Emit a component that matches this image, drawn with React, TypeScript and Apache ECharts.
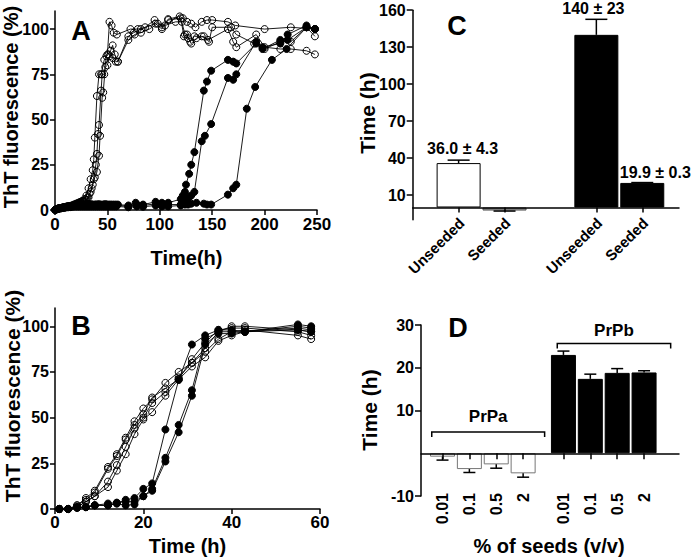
import React, { useEffect, useRef } from 'react';
import * as echarts from 'echarts';

const FONT = "'Liberation Sans', Arial, Helvetica, sans-serif";

// ---------- Panel A : ThT kinetics (open = PrPa, filled = PrPb) ----------
const openA1: number[][] = [[0,0],[2,0.5],[4,1],[6,1],[8,1.5],[10,1.5],[12,2],[14,2],[16,2.5],[18,3],[20,3.5],[22,4],[24,4.5],[26,5],[28,6],[30,8],[32,12],[34,17],[36,22],[37,28],[38,40],[40,63],[42,75],[44,75],[47,83],[50,86],[52,104],[54,102],[56,98],[59,97],[72,100],[79,100],[86,101],[95,105],[102,101],[108,105.5],[119,107],[122,106],[126,104],[130,103],[134,101],[140,104],[145,105],[150,105],[165,104],[172,102],[200,100],[225,101],[248,100]];
const openA2: number[][] = [[1,0.3],[3,0.8],[5,1],[7,1.2],[9,1.5],[11,1.8],[13,2],[15,2.2],[17,2.5],[19,3],[21,3.5],[23,4],[25,4.5],[27,5],[29,6],[31,7],[33,9],[35,12],[37,17],[39,25],[40,31],[41,42],[42,47],[44,66],[45,75],[47,75],[49,85],[51,86],[53,88],[55,91],[57,86],[60,82],[70,96],[75,98],[82,100],[96,103],[102,100],[108,105],[120,106],[123,96],[126,97],[129,93],[133,96],[140,96],[146,94],[165,100],[170,93],[173,90],[192,97],[200,90],[215,89],[225,89],[240,88],[248,86]];
const openA3: number[][] = [[0.5,0.2],[2.5,0.6],[4.5,0.9],[6.5,1.1],[8.5,1.3],[10.5,1.6],[12.5,1.8],[14.5,2],[16.5,2.3],[18.5,2.6],[20.5,3],[22.5,3.4],[24.5,4],[26.5,4.5],[28.5,5],[30,5.5],[32,7],[34,10],[36,14],[38,18],[40,21],[42,30],[43,41],[45,62],[46,65],[48,79],[50,80],[52,85],[55,84],[58,82],[60,82],[70,94],[76,97],[82,98],[90,100],[98,103],[105,102],[115,104],[121,104],[124,97],[127,95],[130,92],[135,95],[142,96],[147,93],[150,101],[168,101],[173,97],[190,92],[200,89],[215,93],[225,93],[240,101],[248,96]];
const filledA1: number[][] = [[0,0],[2,0.5],[4,1],[6,1.2],[8,1.5],[10,1.8],[12,2],[14,2.2],[16,2.3],[18,2.5],[20,2.5],[22,2.6],[24,2.8],[26,3],[28,3],[30,3],[32,3],[34,3.2],[36,3],[38,3],[40,3],[42,3.2],[44,3],[46,3],[48,3.2],[50,3],[52,3],[54,3],[56,3],[58,3],[60,3],[70,2.5],[77,4],[84,3],[96,4.5],[102,4],[108,4],[120,6],[122,8],[124,10],[125,14],[128,20],[130,25],[133,32],[142,66],[145,71],[149,77],[165,83],[170,82],[173,81],[192,92],[198,89],[215,94],[222,94],[240,101],[248,100]];
const filledA2: number[][] = [[1,0.3],[3,0.8],[5,1],[7,1.3],[9,1.6],[11,1.8],[13,2],[15,2.2],[17,2.4],[19,2.5],[21,2.6],[23,2.6],[25,2.8],[27,3],[29,3],[31,2.8],[33,3],[35,3],[37,2.8],[39,3],[41,3],[43,2.8],[45,2.8],[47,3],[49,3],[51,2.8],[53,2.8],[55,2.7],[57,2.6],[59,2.6],[70,2],[78,3],[84,2.5],[97,3.5],[102,3],[108,3],[120,3],[123,5],[126,6],[128,7],[130,8],[133,10],[140,38],[143,41],[149,47.5],[165,73],[170,72],[173,75],[192,93],[198,90],[215,92],[222,97],[240,102],[248,100]];
const filledA3: number[][] = [[0.5,0.2],[2.5,0.5],[4.5,0.8],[6.5,1],[8.5,1.2],[10.5,1.4],[12.5,1.5],[14.5,1.6],[16.5,1.8],[18.5,2],[20.5,2],[22.5,2],[24.5,2],[26.5,2],[28.5,2],[30.5,2],[32.5,2],[34.5,2],[36.5,2],[38.5,2],[40.5,2],[42.5,2],[44.5,2],[46.5,2],[48.5,2],[50.5,2],[52.5,2],[54.5,2],[56.5,2],[58.5,2],[70,1.5],[78,2],[84,1.8],[96,2.5],[102,2],[108,2],[120,2.5],[124,3],[127,3],[130,3.5],[135,4],[142,3.5],[145,3],[149,3],[165,8.5],[170,12],[173,14],[183,56],[191,68],[207,83],[221,89],[240,101],[248,100]];

// ---------- Panel B : seeded kinetics ----------
const timesB = [1,3,5,7,9,12,14,16,18,20,22,25,28,31,34,37,40,43,55,58];
const openB1 = [0,0,2,6,10,23,30,39,48,55,60,69,75,80,88,97,100,100,98,97];
const openB2 = [0,0,2,5,9,22,29,38,46,52,61,66,71,82,91,98,99,99,97,95];
const openB3 = [0,0,1,4,7,15,24,34,44,50,58,64,72,80,86,93,97,98,95,93];
const openB4 = [0,0,1,4,7,12,21,30,41,49,53,62,71,78,83,92,95,97,99,98];
const filledB1 = [0,0,1,1,2,2,3,5,6,11,14,43.5,70.6,90,95,98,98,97,101,100];
const filledB2 = [0,0,1,1,2,3,3.5,4,4,7,11,28,46,65,93,97,97,97,100,99];
const filledB3 = [0,0,0.5,1,2,2,3,2,2.5,7,10,26,42,62,90,96,96,97,98,97];

// ---------- Panel C : lag times ----------
const cPositions = [1, 2, 4, 5];
const cLabels = ['Unseeded', 'Seeded', 'Unseeded', 'Seeded'];
const cMeans = [36.0, -2.5, 140, 19.9];
const cErrors = [2.4, -0.4, 12.6, 0.3];
const cAnnotations = ['36.0 ± 4.3', '', '140 ± 23', '19.9 ± 0.3'];
const cColors = ['#ffffff', '#9a9a9a', '#000000', '#000000'];
const cYTicks = [10, 40, 70, 100, 130, 160];

// ---------- Panel D : lag time vs % seeds ----------
const dPositions = [1, 2, 3, 4, 5.5, 6.5, 7.5, 8.5];
const dLabels = ['0.01', '0.1', '0.5', '2', '0.01', '0.1', '0.5', '2'];
const dMeans = [-0.8, -3.7, -2.6, -4.7, 23.0, 17.4, 18.8, 18.9];
const dErrors = [-0.8, -0.8, -0.9, -0.9, 0.9, 1.1, 1.0, 0.4];
const dYTicks = [-10, 10, 20, 30];
const dGroups = [
  { text: 'PrPa', from: 0.6, to: 4.8, level: 5.0, drop: 1.2, textLevel: 8.6 },
  { text: 'PrPb', from: 5.27, to: 9.49, level: 25.7, drop: 1.2, textLevel: 28.6 },
];

const lineStyleAxis = { show: true, onZero: true, lineStyle: { color: '#000', width: 1.5 } };
const tick = (vals: number[], len = 5) => ({ show: true, inside: false, length: len, customValues: vals, lineStyle: { color: '#000', width: 1.5 } });
const lab = (vals: number[], size: number, margin: number, extra: any = {}) => ({
  show: true, customValues: vals, fontFamily: FONT, fontWeight: 'bold', fontSize: size, color: '#000', margin, ...extra,
});

function curve(data: number[][], filled: boolean, xi: number, yi: number) {
  return {
    type: 'line', xAxisIndex: xi, yAxisIndex: yi, data, symbol: 'circle', symbolSize: 7,
    showSymbol: true, showAllSymbol: true, silent: true, z: filled ? 3 : 4,
    lineStyle: { color: '#000', width: 0.9 },
    itemStyle: { color: filled ? '#000' : 'rgba(255,255,255,0)', borderColor: '#000', borderWidth: 1 },
  };
}

function errorSeries(xi: number, yi: number, pos: number[], means: number[], errs: number[], capHalf: number) {
  return {
    type: 'custom', xAxisIndex: xi, yAxisIndex: yi, z: 6, silent: true,
    data: pos.map((p, i) => [p, means[i], means[i] + errs[i]]),
    encode: { x: 0, y: [1, 2] },
    renderItem: (_p: any, api: any) => {
      const a = api.coord([api.value(0), api.value(1)]);
      const b = api.coord([api.value(0), api.value(2)]);
      const st = { stroke: '#000', lineWidth: 1.5 };
      return {
        type: 'group', children: [
          { type: 'line', shape: { x1: a[0], y1: a[1], x2: b[0], y2: b[1] }, style: st },
          { type: 'line', shape: { x1: b[0] - capHalf, y1: b[1], x2: b[0] + capHalf, y2: b[1] }, style: st },
        ],
      };
    },
  };
}

const titleText = (text: string, x: number, y: number, size: number, rotate = false) => ({
  type: 'text', x, y, rotation: rotate ? Math.PI / 2 : 0, silent: true,
  style: { text, fill: '#000', fontFamily: FONT, fontWeight: 'bold', fontSize: size, align: 'center', verticalAlign: 'middle', textAlign: 'center', textVerticalAlign: 'middle' },
});

function buildOption(): any {
  const cLabelLayout = [
    { distance: 7, offset: [4, 0] }, null, { distance: 18, offset: [-3, 0] }, { distance: 2, offset: [13, 0] },
  ];
  return {
    animation: false,
    backgroundColor: '#fff',
    grid: [
      { left: 55, top: 11, width: 262, height: 199 },
      { left: 55, top: 308, width: 265, height: 201 },
      { left: 412.7, top: 10.2, width: 266.3, height: 209.6 },
      { left: 421, top: 325, width: 258, height: 171 },
    ],
    xAxis: [
      { gridIndex: 0, type: 'value', min: 0, max: 250, axisLine: lineStyleAxis, axisTick: tick([0, 50, 100, 150, 200, 250]), axisLabel: lab([0, 50, 100, 150, 200, 250], 17, 6), splitLine: { show: false } },
      { gridIndex: 1, type: 'value', min: 0, max: 60, axisLine: lineStyleAxis, axisTick: tick([0, 20, 40, 60]), axisLabel: lab([0, 20, 40, 60], 17, 5), splitLine: { show: false } },
      { gridIndex: 2, type: 'value', min: 0, max: 5.8, axisLine: lineStyleAxis, axisTick: tick(cPositions, 5), z: 10,
        axisLabel: { show: false }, splitLine: { show: false } },
      { gridIndex: 3, type: 'value', min: 0.2, max: 9.8, position: 'bottom', axisLine: lineStyleAxis, axisTick: tick(dPositions, 6), z: 10,
        axisLabel: { show: false }, splitLine: { show: false } },
      { gridIndex: 3, type: 'value', min: 0.2, max: 9.8, position: 'bottom', axisLine: { show: false, onZero: false }, axisTick: { show: false },
        axisLabel: lab(dPositions, 16, -3, { rotate: 90, formatter: (v: number) => dLabels[dPositions.indexOf(v)] ?? '' }), splitLine: { show: false } },
    ],
    yAxis: [
      { gridIndex: 0, type: 'value', min: 0, max: 110, axisLine: lineStyleAxis, axisTick: tick([0, 25, 50, 75, 100]), axisLabel: lab([0, 25, 50, 75, 100], 16, 6), splitLine: { show: false } },
      { gridIndex: 1, type: 'value', min: 0, max: 110, axisLine: lineStyleAxis, axisTick: tick([0, 25, 50, 75, 100]), axisLabel: lab([0, 25, 50, 75, 100], 16, 6), splitLine: { show: false } },
      { gridIndex: 2, type: 'value', min: -10, max: 160, axisLine: lineStyleAxis, axisTick: tick(cYTicks, 6), axisLabel: lab(cYTicks, 16, 7), splitLine: { show: false } },
      { gridIndex: 3, type: 'value', min: -10, max: 30, axisLine: lineStyleAxis, axisTick: tick(dYTicks, 6), axisLabel: lab(dYTicks, 16, 7), splitLine: { show: false } },
    ],
    graphic: [
      titleText('A', 81, 31, 27), titleText('B', 81, 326, 27), titleText('C', 457, 26, 27), titleText('D', 458, 328, 27),
      titleText('ThT fluorescence (%)', 11, 107, 20, true),
      titleText('ThT fluorescence (%)', 12, 396, 21, true),
      titleText('Time (h)', 367, 113, 21, true),
      titleText('Time (h)', 369.5, 410, 21, true),
      titleText('Time(h)', 186.5, 257.5, 20),
      titleText('Time (h)', 187.5, 545.5, 20),
      titleText('% of seeds (v/v)', 549, 545.5, 20),
    ],
    series: [
      curve(filledA1, true, 0, 0), curve(filledA2, true, 0, 0), curve(filledA3, true, 0, 0),
      curve(openA1, false, 0, 0), curve(openA2, false, 0, 0), curve(openA3, false, 0, 0),
      ...[filledB1, filledB2, filledB3].map((v) => curve(timesB.map((t, i) => [t, v[i]]), true, 1, 1)),
      ...[openB1, openB2, openB3, openB4].map((v) => curve(timesB.map((t, i) => [t, v[i]]), false, 1, 1)),
      {
        type: 'bar', xAxisIndex: 2, yAxisIndex: 2, barWidth: 44, z: 2, silent: true,
        data: cPositions.map((p, i) => ({
          value: [p, cMeans[i]],
          itemStyle: { color: cColors[i], borderColor: i === 1 ? '#555' : '#000', borderWidth: 1 },
          label: cAnnotations[i]
            ? { show: true, position: 'top', formatter: cAnnotations[i], distance: cLabelLayout[i]!.distance, offset: cLabelLayout[i]!.offset,
                fontFamily: FONT, fontWeight: 'bold', fontSize: 16, color: '#000' }
            : { show: false },
        })),
      },
      errorSeries(2, 2, cPositions, cMeans, cErrors, 11),
      {
        // rotated category labels of panel C, anchored under each bar
        type: 'custom', xAxisIndex: 2, yAxisIndex: 2, z: 6, silent: true, clip: false,
        data: cPositions.map((p) => [p, 0]),
        encode: { x: 0, y: 1 },
        renderItem: (params: any, api: any) => {
          const pt = api.coord([api.value(0), api.value(1)]);
          return {
            type: 'text', x: pt[0] + 3, y: pt[1] + 13, rotation: Math.PI / 4,
            style: { text: cLabels[params.dataIndex], fill: '#000', fontFamily: FONT, fontWeight: 'bold', fontSize: 15, align: 'right', verticalAlign: 'middle' },
          };
        },
      },
      {
        type: 'bar', xAxisIndex: 3, yAxisIndex: 3, barWidth: 25, z: 2, silent: true,
        data: dPositions.map((p, i) => ({
          value: [p, dMeans[i]],
          itemStyle: { color: i < 4 ? '#fff' : '#000', borderColor: i < 4 ? '#777' : '#000', borderWidth: 1 },
        })),
      },
      errorSeries(3, 3, dPositions, dMeans, dErrors, 6),
      {
        type: 'custom', xAxisIndex: 3, yAxisIndex: 3, z: 6, silent: true,
        data: dGroups.map((g) => [g.from, g.to, g.level, g.drop, g.textLevel]),
        encode: { x: [0, 1], y: [2] },
        renderItem: (params: any, api: any) => {
          const x1 = api.value(0), x2 = api.value(1), y = api.value(2), d = api.value(3), ty = api.value(4);
          const p1 = api.coord([x1, y - d]), p2 = api.coord([x1, y]), p3 = api.coord([x2, y]), p4 = api.coord([x2, y - d]);
          const pt = api.coord([(x1 + x2) / 2, ty]);
          return {
            type: 'group', children: [
              { type: 'polyline', shape: { points: [p1, p2, p3, p4] }, style: { stroke: '#000', lineWidth: 1.5, fill: 'none' } },
              { type: 'text', x: pt[0], y: pt[1], style: { text: dGroups[params.dataIndex].text, fill: '#000', fontFamily: FONT, fontWeight: 'bold', fontSize: 17, align: 'center', verticalAlign: 'middle' } },
            ],
          };
        },
      },
    ],
  };
}

export default function App() {
  const ref = useRef<HTMLDivElement>(null);
  useEffect(() => {
    if (!ref.current) return;
    const chart = echarts.init(ref.current, null, { renderer: 'svg' });
    chart.setOption(buildOption());
    return () => chart.dispose();
  }, []);
  return <div ref={ref} style={{ position: 'fixed', left: 0, top: 0, width: 693, height: 560, background: '#fff' }} />;
}
